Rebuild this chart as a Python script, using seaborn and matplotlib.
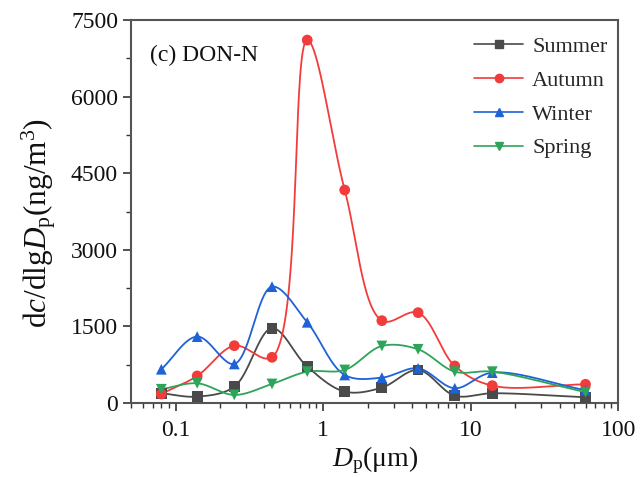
import numpy as np
import pandas as pd
import matplotlib
matplotlib.use("Agg")
import matplotlib.pyplot as plt
import seaborn as sns
from matplotlib.ticker import FixedLocator, NullFormatter, LogLocator, FuncFormatter
from matplotlib.lines import Line2D

# ---- data ----
dp = [0.08, 0.14, 0.25, 0.45, 0.78, 1.4, 2.5, 4.4, 7.8, 14, 60]
summer = [190, 124, 320, 1462, 711, 222, 300, 646, 143, 190, 112]
autumn = [176, 529, 1122, 894, 7108, 4171, 1612, 1769, 725, 339, 366]
winter = [660, 1300, 764, 2278, 1580, 548, 496, 679, 288, 594, 250]
spring = [268, 385, 157, 372, 613, 646, 1116, 1051, 613, 613, 210]
seasons = ["Summer", "Autumn", "Winter", "Spring"]
series = [summer, autumn, winter, spring]
colors = ["#4a4a4a", "#f23c3c", "#1f62d6", "#2ea35a"]
markers = ["s", "o", "^", "v"]

sns.set_theme(style="white")
plt.rcParams["font.family"] = ["Liberation Serif", "DejaVu Serif"]
plt.rcParams["mathtext.fontset"] = "custom"
plt.rcParams["mathtext.rm"] = "Liberation Serif"
plt.rcParams["mathtext.it"] = "Liberation Serif:italic"

XMIN, XMAX, YMIN, YMAX = 0.05, 100, 0, 7500
W_PX, H_PX = 487.0, 383.0


def centripetal_cr(xv, yv, nseg=80, alpha=0.5):
    # centripetal Catmull-Rom curve drawn in screen space through the points
    u = (np.log10(xv) - np.log10(XMIN)) / (np.log10(XMAX) - np.log10(XMIN)) * W_PX
    v = (np.asarray(yv, float) - YMIN) / (YMAX - YMIN) * H_PX
    P = np.column_stack([u, v])
    P = np.vstack([2 * P[0] - P[1], P, 2 * P[-1] - P[-2]])
    out = []
    for i in range(1, len(P) - 2):
        p0, p1, p2, p3 = P[i - 1], P[i], P[i + 1], P[i + 2]
        t0 = 0.0
        t1 = t0 + np.linalg.norm(p1 - p0) ** alpha
        t2 = t1 + np.linalg.norm(p2 - p1) ** alpha
        t3 = t2 + np.linalg.norm(p3 - p2) ** alpha
        t = np.linspace(t1, t2, nseg)[:, None]
        a1 = (t1 - t) / (t1 - t0) * p0 + (t - t0) / (t1 - t0) * p1
        a2 = (t2 - t) / (t2 - t1) * p1 + (t - t1) / (t2 - t1) * p2
        a3 = (t3 - t) / (t3 - t2) * p2 + (t - t2) / (t3 - t2) * p3
        b1 = (t2 - t) / (t2 - t0) * a1 + (t - t0) / (t2 - t0) * a2
        b2 = (t3 - t) / (t3 - t1) * a2 + (t - t1) / (t3 - t1) * a3
        c = (t2 - t) / (t2 - t1) * b1 + (t - t1) / (t2 - t1) * b2
        out.append(c if i == 1 else c[1:])
    pts = np.vstack(out)
    xs = 10 ** (pts[:, 0] / W_PX * (np.log10(XMAX) - np.log10(XMIN)) + np.log10(XMIN))
    ys = pts[:, 1] / H_PX * (YMAX - YMIN) + YMIN
    return xs, ys


rows = []
for s, vals in zip(seasons, series):
    for x, v in zip(dp, vals):
        rows.append({"Dp": x, "val": v, "season": s})
df = pd.DataFrame(rows)

fig, ax = plt.subplots(figsize=(6.4, 4.78), dpi=100)
fig.subplots_adjust(left=0.205, right=0.966, top=0.958, bottom=0.157)

for s, vals, c in zip(seasons, series, colors):
    xs, ys = centripetal_cr(np.array(dp, float), vals)
    ax.plot(xs, ys, color=c, lw=1.3, zorder=2)

sns.scatterplot(data=df, x="Dp", y="val", hue="season", style="season",
                palette=dict(zip(seasons, colors)),
                markers=dict(zip(seasons, markers)), s=60, edgecolor="none",
                ax=ax, legend=False, zorder=3)

ax.set_xscale("log")
ax.set_xlim(XMIN, XMAX)
ax.set_ylim(YMIN, YMAX)
ax.set_yticks([0, 1500, 3000, 4500, 6000, 7500])
ax.yaxis.set_minor_locator(FixedLocator(np.arange(750, 7500, 1500)))
ax.xaxis.set_major_locator(FixedLocator([0.1, 1, 10, 100]))
ax.xaxis.set_major_formatter(FuncFormatter(lambda v, p: {0.1: "0.1", 1: "1", 10: "10", 100: "100"}.get(round(v, 3), "")))
ax.xaxis.set_minor_locator(LogLocator(base=10, subs=np.arange(2, 10)))
ax.xaxis.set_minor_formatter(NullFormatter())

ax.tick_params(axis="both", which="major", direction="out", length=6, width=1.2,
               labelsize=17, color="#333333", labelcolor="#111111",
               bottom=True, left=True, top=False, right=False)
ax.tick_params(axis="x", which="major", pad=6)
ax.tick_params(axis="both", which="minor", direction="out", length=3.5, width=1.0,
               color="#333333", bottom=True, left=True, top=False, right=False)
for sp in ax.spines.values():
    sp.set_color("#555555")
    sp.set_linewidth(1.5)

ax.set_xlabel(r"$D_{\mathrm{p}}$(μm)", fontsize=20, labelpad=3, color="#111111")
ax.set_ylabel(r"d$c$/dlg$D_{\mathrm{p}}$(ng/m$^3$)", fontsize=22.5, labelpad=9, color="#111111")
ax.yaxis.label.set_y(0.47)

ax.text(0.039, 0.908, "(c) DON-N", transform=ax.transAxes, fontsize=17,
        ha="left", va="center", color="#111111")

handles = [Line2D([0], [0], color=c, marker=m, markersize=6, lw=1.2)
           for c, m in zip(colors, markers)]
ax.legend(handles, seasons, loc="upper right", frameon=False, fontsize=16,
          handlelength=2.2, handletextpad=0.4, labelspacing=0.6,
          bbox_to_anchor=(1.019, 1.01))

fig.savefig("out.png", dpi=100)
